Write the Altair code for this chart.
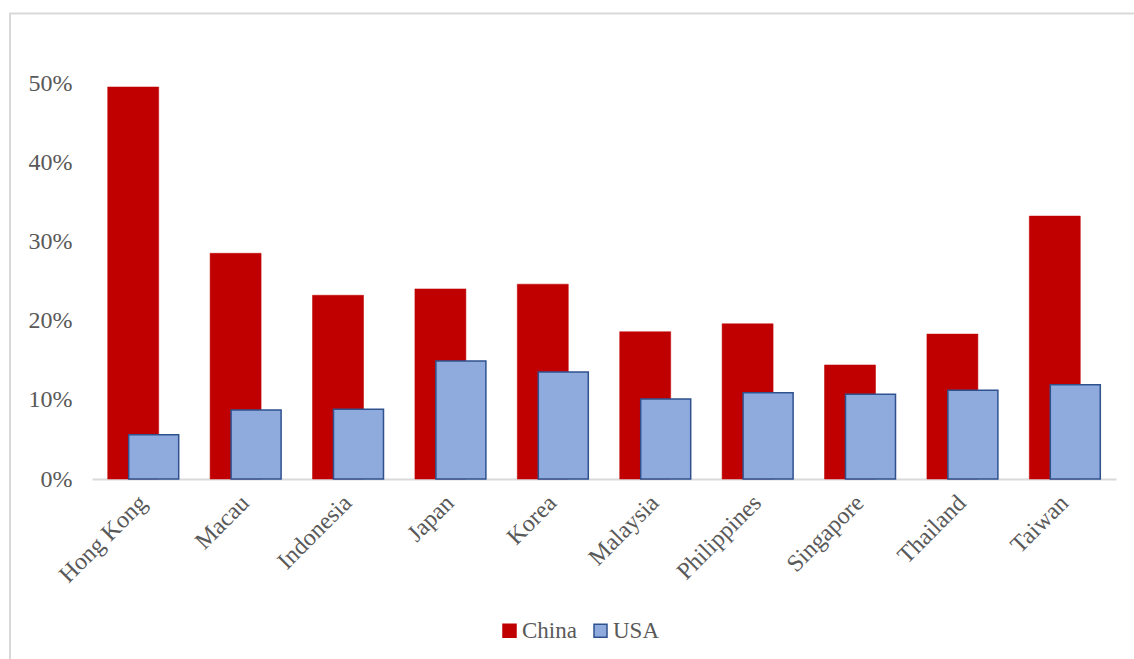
import altair as alt
import pandas as pd

# Share of trade, by partner economy
countries = ["Hong Kong", "Macau", "Indonesia", "Japan", "Korea",
             "Malaysia", "Philippines", "Singapore", "Thailand", "Taiwan"]
china = [0.495, 0.285, 0.232, 0.240, 0.246, 0.186, 0.196, 0.144, 0.183, 0.332]
usa = [0.056, 0.087, 0.088, 0.149, 0.135, 0.101, 0.109, 0.107, 0.112, 0.119]
series = ["China", "USA"]
y_ticks = [0.0, 0.1, 0.2, 0.3, 0.4, 0.5]

rows = []
for c, v in zip(countries, china):
    rows.append({"Economy": c, "Country": "China", "Share": v})
for c, v in zip(countries, usa):
    rows.append({"Economy": c, "Country": "USA", "Share": v})
df = pd.DataFrame(rows)

FONT = "Liberation Serif"
GREY = "#595959"
SIZE = 24

x_enc = alt.X(
    "Economy:N",
    sort=countries,
    scale=alt.Scale(paddingInner=0, paddingOuter=0),
    axis=alt.Axis(
        title=None, labelAngle=-45, labelAlign="right", labelBaseline="middle",
        labelPadding=20, ticks=False, domainColor="#D9D9D9", domainWidth=2,
        labelFont=FONT, labelFontSize=SIZE, labelColor=GREY,
    ),
)
y_enc = alt.Y(
    "Share:Q",
    scale=alt.Scale(domain=[0, 0.5], nice=False),
    axis=alt.Axis(
        title=None, values=y_ticks, format=".0%", grid=False, domain=False,
        ticks=False, labelPadding=20, labelFont=FONT, labelFontSize=SIZE,
        labelColor=GREY,
    ),
)
legend = alt.Legend(
    title=None, orient="none", direction="horizontal", legendX=406,
    legendY=536, symbolType="square", symbolSize=169, symbolStrokeWidth=1.5,
    labelFont=FONT, labelFontSize=23, labelColor=GREY, labelOffset=1,
    columnPadding=12,
)
fill_enc = alt.Fill(
    "Country:N",
    scale=alt.Scale(domain=series, range=["#C00000", "#8FAADC"]),
    legend=legend,
)
stroke_enc = alt.Stroke(
    "Country:N",
    scale=alt.Scale(domain=series, range=["#C00000", "#2F528F"]),
    legend=legend,
)

base = alt.Chart(df).encode(x=x_enc, y=y_enc, fill=fill_enc, stroke=stroke_enc)

china_bars = base.transform_filter(alt.datum.Country == "China").mark_bar(
    width=51, xOffset=-10, strokeWidth=0.5
)
usa_bars = base.transform_filter(alt.datum.Country == "USA").mark_bar(
    width=50, xOffset=10.5, strokeWidth=1.5
)

# outer frame of the chart area
frame = alt.Chart(pd.DataFrame({"f": [0]})).mark_rect(
    fill="transparent", stroke="#D9D9D9", strokeWidth=2
).encode(
    x=alt.value(-82), x2=alt.value(1060),
    y=alt.value(-69.5), y2=alt.value(600),
)

chart = alt.layer(frame, china_bars, usa_bars).properties(
    width=1024, height=396,
    autosize=alt.AutoSizeParams(type="none"),
    padding={"left": 92, "top": 83, "right": 18, "bottom": 180},
).configure(background="white").configure_view(stroke=None, strokeWidth=0)

chart.save("out.html", embed_options={"renderer": "svg", "actions": False})
